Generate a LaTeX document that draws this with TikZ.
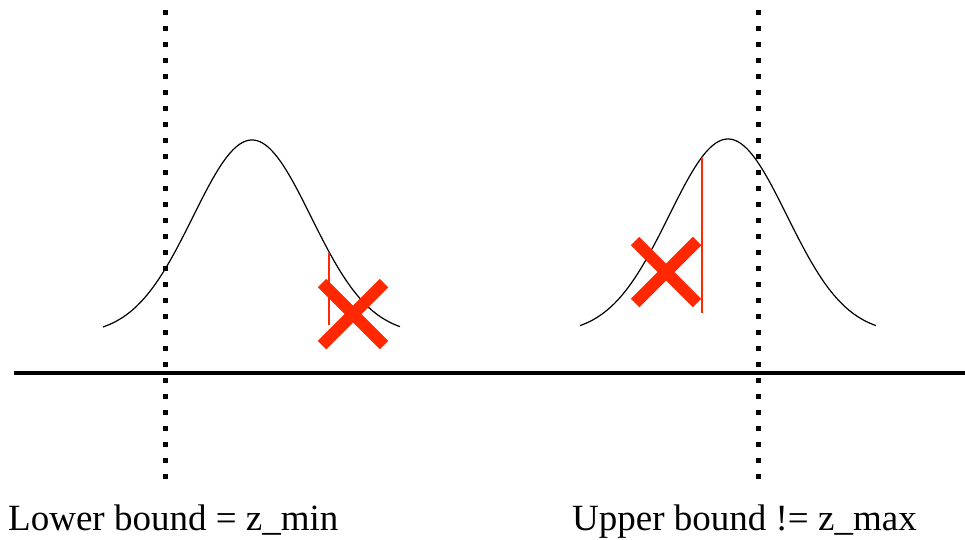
\documentclass[tikz,border=0pt]{standalone}
\usepackage{fontspec}
\setmainfont{Liberation Serif}
\usepackage{xcolor}
\usetikzlibrary{positioning, calc}

\definecolor{crossred}{RGB}{255,40,0}

\begin{document}
\begin{tikzpicture}[
    x=1pt, y=-1pt,
    bound/.style={
        line width=5pt,
        dash pattern=on 5pt off 11pt
    },
    axis/.style={line width=4.5pt},
    bell/.style={line width=1.2pt, smooth},
    cut/.style={crossred, line width=2.8pt},
    cross/.style={crossred, line width=12pt},
    caption/.style={
        anchor=base west,
        inner sep=0pt,
        font=\fontsize{37}{44}\selectfont
    }
]
\useasboundingbox (0,0) rectangle (965,539);

% ============================================================
% EJE Y COTAS
% ============================================================
\coordinate (axisL) at (14,373);
\coordinate (axisR) at (965,373);
\draw[axis] (axisL) -- (axisR);

\coordinate (lowtop) at (165,10);
\coordinate (lowbot) at (165,480);
\coordinate (uptop)  at (758,10);
\coordinate (upbot)  at (758,480);
\draw[bound] (lowtop) -- (lowbot);
\draw[bound] (uptop) -- (upbot);

% ============================================================
% CAMPANAS
% ============================================================
\draw[bell] plot[domain=103:400, samples=120]
    (\x, {335-195*exp(-((\x-252)/59)^2/2)});
\draw[bell] plot[domain=580:876, samples=120]
    (\x, {334-195*exp(-((\x-728)/59)^2/2)});

% ============================================================
% CORTES Y CRUCES
% ============================================================
\coordinate (cutAtop) at (329,253);
\coordinate (cutAbot) at (329,325);
\draw[cut] (cutAtop) -- (cutAbot);
\coordinate (crossA) at (353,314);
\draw[cross] ($(crossA)+(-31,-31)$) -- ($(crossA)+(31,31)$);
\draw[cross] ($(crossA)+(-31,31)$) -- ($(crossA)+(31,-31)$);

\coordinate (cutBtop) at (702,158);
\coordinate (cutBbot) at (702,313);
\draw[cut] (cutBtop) -- (cutBbot);
\coordinate (crossB) at (666,272);
\draw[cross] ($(crossB)+(-31,-31)$) -- ($(crossB)+(31,31)$);
\draw[cross] ($(crossB)+(-31,31)$) -- ($(crossB)+(31,-31)$);

% ============================================================
% ETIQUETAS
% ============================================================
\node[caption] (lowlabel) at (8,530) {Lower bound = z\_min};
\node[caption] (uplabel) at (572,530) {Upper bound != z\_max};

\end{tikzpicture}
\end{document}
